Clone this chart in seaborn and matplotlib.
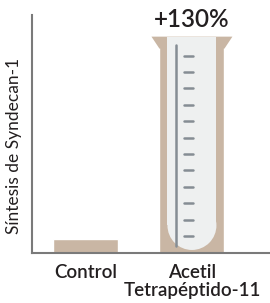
import matplotlib
matplotlib.use("Agg")
import pandas as pd
import seaborn as sns
import matplotlib.pyplot as plt
from matplotlib.patches import Rectangle, Ellipse, Polygon

# datos del grafico
categories = ["Control", "Acetil\nTetrapéptido-11"]
values = [6.5, 100]
bar_label = "+130%"
y_label = "Síntesis de Syndecan-1"

tan = "#c9b6a4"
glass = "#eef0f0"
scale_grey = "#858d94"
axis_grey = "#7a7a7a"
text_col = "#231f20"

sns.set_style("white")
plt.rcParams['font.family'] = ['Lato', 'DejaVu Sans']
plt.rcParams['font.weight'] = 'semibold'

df = pd.DataFrame({"grupo": categories, "valor": values})

fig = plt.figure(figsize=(2.7, 3.03), dpi=100)
ax = fig.add_axes([32 / 270, 50 / 303, 238 / 270, 238 / 303])
sns.barplot(data=df, x="grupo", y="valor", color=tan, width=0.61,
            saturation=1, ax=ax)
ax.set_xlim(-0.502, 1.733)
ax.set_ylim(0, 110)

# escala de pixeles por unidad
px_x = 238 / (1.733 + 0.502)
px_y = 238 / 110

# tubo de ensayo sobre la segunda barra
bar = ax.patches[1]
x0, w, h = bar.get_x(), bar.get_width(), bar.get_height()
dx, dy = 8 / px_x, 12 / px_y
ax.add_patch(Polygon([(x0 - dx, h), (x0 + w + dx, h), (x0 + w, h - dy), (x0, h - dy)],
                     closed=True, color=tan, lw=0, zorder=3))
inset = 8 / px_x
gx0, gw = x0 + inset, w - 2 * inset
ry = (gw * px_x / 2) / px_y
gbot = 1.4
ax.add_patch(Rectangle((gx0, gbot + ry), gw, h - gbot - ry, color=glass, lw=0, zorder=4))
ax.add_patch(Ellipse((gx0 + gw / 2, gbot + ry), gw, 2 * ry, color=glass, lw=0, zorder=4))

# graduaciones
lx = x0 + 17 / px_x
ax.plot([lx, lx], [3.2, 96.1], color=scale_grey, lw=1.8, solid_capstyle="round", zorder=5)
t0, t1 = x0 + 25 / px_x, x0 + 34 / px_x
for i in range(12):
    ty = 7.86 + i * 7.58
    ax.plot([t0, t1], [ty, ty], color=scale_grey, lw=1.8, zorder=5)

ax.text(x0 + w / 2, h + 4.4, bar_label, ha="center", va="baseline",
        fontsize=17.5, color=text_col)

# ejes
sns.despine(ax=ax)
for s in ["left", "bottom"]:
    ax.spines[s].set_color(axis_grey)
    ax.spines[s].set_linewidth(1.5)
ax.set_yticks([])
ax.tick_params(axis="x", length=0, pad=8, labelsize=13.5, labelcolor=text_col)
for lab in ax.get_xticklabels():
    lab.set_linespacing(1.05)
ax.set_xlabel("")
ax.set_ylabel(y_label, fontsize=12.5, color=text_col)
ax.yaxis.set_label_coords(-0.04, 0.45)

fig.savefig("out.png", dpi=100)
